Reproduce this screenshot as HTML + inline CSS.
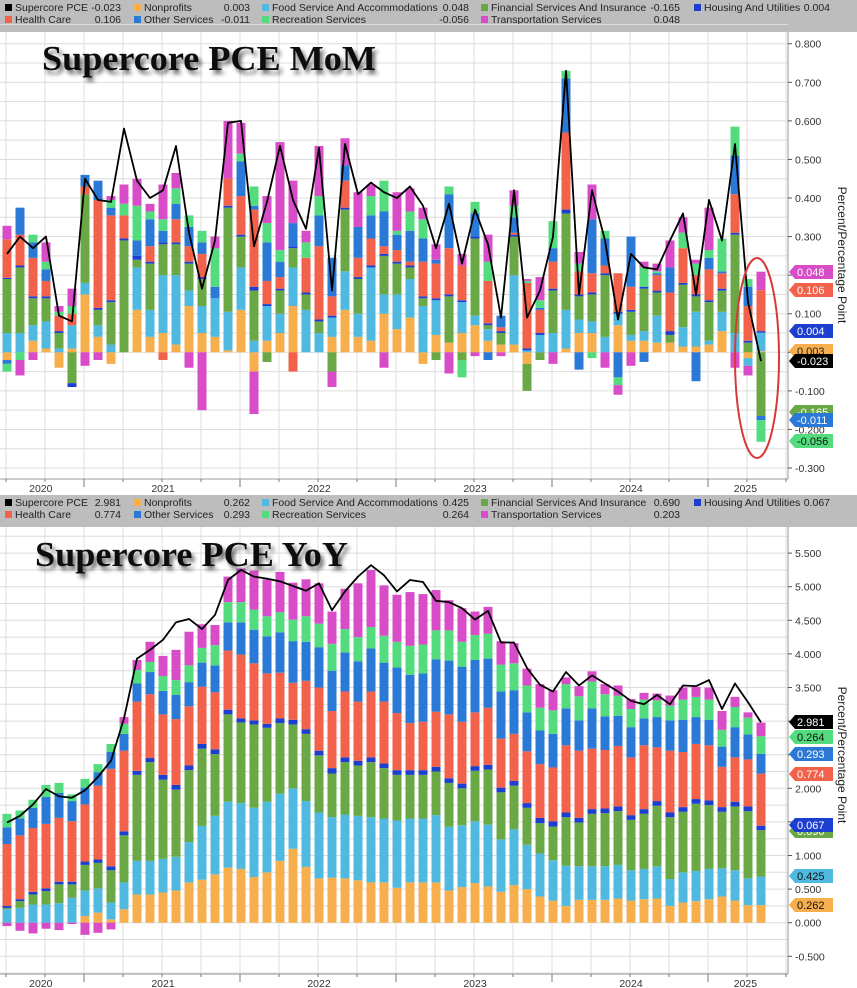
<!DOCTYPE html>
<html><head><meta charset="utf-8">
<style>
html,body{margin:0;padding:0;background:#fff;}
svg{display:block;font-family:"Liberation Sans",sans-serif;}
</style></head>
<body>
<svg id="chart" width="857" height="988" viewBox="0 0 857 988" xmlns="http://www.w3.org/2000/svg">
<defs>
<filter id="shadow" x="-10%" y="-30%" width="120%" height="170%"><feGaussianBlur in="SourceAlpha" stdDeviation="2.2"/><feOffset dx="3" dy="4" result="b"/><feComponentTransfer><feFuncA type="linear" slope="0.6"/></feComponentTransfer><feMerge><feMergeNode/><feMergeNode in="SourceGraphic"/></feMerge></filter>
</defs>
</svg>
<script>
// ---------- DATA ----------
const seriesNames = ["Nonprofits","Food Service And Accommodations","Financial Services And Insurance","Housing And Utilities","Health Care","Other Services","Recreation Services","Transportation Services"];
const seriesColors = ["#f7ae4c","#4fb9e0","#6aa846","#1c3fd0","#f2614a","#2b79d6","#52dc7e","#d94cc7"];
const yearLabels = ["2020","2021","2022","2023","2024","2025"];
const yearLabelIdx = [2.6,12,24,36,48,56.8];
const yearTickIdx = [6,18,30,42,54];

// MoM
const momTotal = [0.255,0.30,0.27,0.30,0.095,0.08,0.45,0.395,0.39,0.58,0.445,0.40,0.42,0.535,0.31,0.165,0.29,0.595,0.60,0.275,0.39,0.535,0.395,0.32,0.53,0.16,0.54,0.41,0.44,0.415,0.40,0.43,0.38,0.27,0.385,0.23,0.37,0.28,0.09,0.42,0.09,0.16,0.30,0.73,0.15,0.42,0.29,0.085,0.255,0.22,0.215,0.29,0.36,0.15,0.395,0.29,0.54,0.13,-0.023];
const momNP = [-0.02,0,0.03,0.01,-0.04,0.01,0.15,0.04,-0.03,0,0.11,0.04,0.05,0.02,0.12,0.05,0.04,0.005,0.11,-0.05,0.03,0.05,0.12,0,0,0.04,0.11,0.04,0.03,0.1,0.06,0.09,-0.03,0.045,0.025,0.05,0.07,0.03,0.02,0.02,-0.03,0,0,0.01,0.05,0.05,0,0.07,0.03,0.03,0.025,0.025,0.015,0.015,0.02,0.055,0,-0.015,0.003];
const momFS = [0.05,0.05,0.04,0.07,0.01,0.06,0.03,0.03,0.02,0,0.11,0.07,0.15,0.18,0.04,0.07,0.1,0.1,0.11,0.03,0.09,0.05,0.1,0.11,0.05,0.05,0.1,0.06,0.19,0.05,0.09,0.1,0.12,0.09,0,0.08,0.025,0.03,0,0.18,0.005,0.045,0.05,0.1,0.035,0.03,0.04,0.03,0.015,0.025,0.07,0,0.05,0.09,0.01,0.05,0.05,-0.02,0.048];
const momFI = [0.14,0.17,0.07,0.06,0.04,-0.08,0.23,0.04,0.11,0.29,0.02,0.12,0.08,0.08,0.07,0.07,0,0.27,0.08,0.13,-0.025,0.06,0.05,0.04,0.03,-0.05,0.16,0.09,0,0.1,0.08,0.03,0.02,-0.02,0.12,-0.02,0.2,0.01,0.03,0.1,-0.07,-0.02,0.11,0.25,0.06,0.07,0.16,0,0.06,0.11,0.06,0.02,0.11,0.04,0.1,0.055,0.255,0.025,-0.165];
const momHU = [0.003,0.005,0.005,0.005,0.005,-0.01,0,0.005,0.005,0.005,0.01,0.005,0.005,0.005,0.005,0.005,0,0.005,0.005,0.01,0.005,0.005,0.005,0.005,0.005,0.005,0.005,0.005,0.005,0.005,0.005,0.005,0.005,0.005,0.005,0.005,0.005,0.005,0.005,0.005,0.005,0.005,0.005,0.01,0.005,0.005,0.005,0.005,0.005,0.005,0.005,0.01,0.005,0.005,0.005,0.005,0.005,0.005,0.004];
const momHC = [0.1,0.08,0.1,0.04,0.04,0.03,0.02,0.28,0.22,0.06,0,0.04,-0.02,0.06,0.04,0.06,0,0.07,0.1,0.2,0.06,0.03,-0.05,0.09,0.19,0.05,0.07,0.05,0.07,0.02,0.03,0.01,0.09,0.09,0.12,0.09,0,0.11,0.01,0.005,0.17,0.06,0.07,0.2,0.06,0.05,0.02,0.1,0.06,0,0.04,0.1,0.09,0.05,0.08,0.04,0.1,0.09,0.106];
const momOS = [-0.01,0.07,0.04,0.03,0,0,0.03,0.05,0.02,0,0.04,0.07,0.03,0.04,0.05,0.03,0.03,0,0.09,0.01,0.1,0.04,0.06,0,0.08,0.1,0.04,0.08,0.06,0.09,0.04,0.08,0.06,0.01,0.14,0,0.06,-0.02,0.03,0.04,0,0.005,0.035,0.14,-0.045,0.14,0.07,-0.065,0.13,-0.025,0.005,0.065,0,-0.075,0.03,0.005,0.1,0.05,-0.011];
const momRS = [-0.02,-0.02,0.02,0.02,0.01,0.02,0,0,0.02,0.03,0.09,0.02,0.03,0.04,0.03,0.03,0.1,0,0.02,0.05,0.05,0.03,0,0.04,0.05,0,0,0,0.05,0.08,0.01,0.05,0.05,0,0.02,-0.045,0.03,0.05,0,0.03,0.005,0.02,0.07,0.02,0.02,-0.015,0.02,-0.02,0,0.05,0.005,0,0.04,0.03,0.02,0.085,0.075,0.02,-0.056];
const momTS = [0.035,-0.04,-0.02,0.05,0.015,0.045,-0.035,-0.02,0.01,0.05,0.07,0.02,0.09,0.04,-0.04,-0.15,0.03,0.15,0.08,-0.11,0.07,0.28,0.11,0.03,0.13,-0.04,0.07,0.09,0.03,-0.04,0.1,0.06,0.03,0.04,-0.055,0.03,-0.01,0.07,-0.01,0.04,0.005,0.06,-0.03,0,0.03,0.09,-0.04,-0.025,-0.035,0.015,0.02,0.07,0.04,0.01,0.11,0,-0.04,-0.025,0.048];
const momTicks = [0.8,0.7,0.6,0.5,0.4,0.3,0.2,0.1,0,-0.1,-0.2,-0.3];

// YoY
const yoyTotal = [1.49,1.59,1.76,1.99,1.88,1.86,1.97,2.17,2.41,3.04,3.93,4.06,4.21,4.47,4.52,4.37,4.58,5.10,5.25,5.15,5.12,5.08,5.01,4.94,5.05,4.65,4.93,5.15,5.32,5.17,4.93,5.10,5.07,4.79,4.77,4.68,4.51,4.64,4.17,4.17,3.79,3.54,3.44,3.73,3.53,3.68,3.56,3.44,3.30,3.25,3.39,3.25,3.53,3.52,3.61,3.18,3.56,3.28,2.981];
const yoyNP = [0,0,0,0,0,0,0.1,0.15,0.05,0.2,0.42,0.42,0.45,0.48,0.6,0.64,0.72,0.82,0.8,0.68,0.75,0.92,1.1,0.83,0.66,0.67,0.66,0.63,0.6,0.6,0.52,0.6,0.6,0.6,0.48,0.53,0.59,0.54,0.46,0.56,0.5,0.39,0.33,0.25,0.34,0.34,0.34,0.36,0.33,0.35,0.36,0.25,0.3,0.32,0.35,0.39,0.33,0.26,0.262];
const yoyFS = [0.2,0.22,0.27,0.27,0.29,0.37,0.38,0.36,0.25,0.4,0.5,0.5,0.5,0.5,0.6,0.8,0.87,0.98,0.98,1.03,1.05,1.0,0.9,0.98,0.98,0.9,0.95,0.96,0.97,0.95,1.0,0.95,0.95,1.0,0.95,0.92,0.92,0.92,0.78,0.83,0.66,0.64,0.6,0.6,0.5,0.5,0.5,0.5,0.45,0.45,0.48,0.4,0.45,0.45,0.45,0.42,0.45,0.4,0.425];
const yoyFI = [0.02,0.1,0.15,0.2,0.28,0.2,0.38,0.38,0.48,0.7,1.28,1.47,1.18,1.0,1.07,1.15,0.92,1.3,1.2,1.24,1.1,1.05,0.95,1.0,0.85,0.65,0.78,0.75,0.82,0.75,0.68,0.65,0.65,0.65,0.65,0.55,0.75,0.82,0.7,0.65,0.55,0.45,0.5,0.72,0.65,0.78,0.79,0.8,0.75,0.82,0.9,0.92,0.9,1.0,0.95,0.84,0.95,1.0,0.69];
const yoyHU = [0.03,0.03,0.04,0.04,0.04,0.04,0.05,0.05,0.06,0.06,0.06,0.06,0.07,0.07,0.07,0.07,0.07,0.07,0.06,0.06,0.06,0.07,0.07,0.07,0.07,0.08,0.07,0.07,0.07,0.07,0.07,0.07,0.07,0.07,0.07,0.07,0.07,0.07,0.07,0.07,0.07,0.08,0.08,0.07,0.07,0.07,0.07,0.07,0.07,0.07,0.07,0.07,0.07,0.07,0.07,0.07,0.07,0.07,0.067];
const yoyHC = [0.92,0.95,0.95,0.96,0.95,0.9,0.85,1.1,1.45,1.2,1.03,0.95,0.9,0.98,0.88,0.85,0.85,0.88,0.95,0.85,0.75,0.68,0.55,0.72,0.94,0.85,0.98,0.88,0.98,0.92,0.85,0.7,0.72,0.82,0.95,0.92,0.8,0.85,0.73,0.7,0.77,0.8,0.8,1.0,1.0,0.9,0.87,0.9,0.86,0.95,0.8,0.92,0.82,0.82,0.82,0.6,0.66,0.7,0.774];
const yoyOS = [0.25,0.25,0.3,0.4,0.37,0.3,0.25,0.2,0.25,0.25,0.27,0.33,0.35,0.36,0.36,0.36,0.4,0.42,0.48,0.5,0.55,0.6,0.62,0.58,0.6,0.6,0.58,0.6,0.64,0.58,0.68,0.72,0.72,0.78,0.8,0.82,0.78,0.73,0.7,0.65,0.58,0.5,0.5,0.55,0.45,0.6,0.5,0.45,0.45,0.4,0.45,0.45,0.48,0.4,0.38,0.3,0.45,0.37,0.293];
const yoyRS = [0.2,0.12,0.12,0.18,0.15,0.1,0.13,0.12,0.12,0.15,0.2,0.15,0.22,0.22,0.25,0.22,0.3,0.3,0.3,0.3,0.3,0.3,0.32,0.38,0.35,0.4,0.35,0.36,0.32,0.4,0.38,0.43,0.43,0.43,0.45,0.37,0.37,0.37,0.4,0.4,0.4,0.34,0.35,0.36,0.36,0.4,0.33,0.3,0.27,0.28,0.25,0.22,0.3,0.3,0.3,0.25,0.3,0.25,0.264];
const yoyTS = [-0.05,-0.12,-0.16,-0.09,-0.11,-0.02,-0.18,-0.15,-0.1,0.1,0.15,0.3,0.3,0.45,0.5,0.35,0.3,0.38,0.5,0.58,0.55,0.6,0.55,0.55,0.6,0.48,0.6,0.8,0.85,0.75,0.7,0.8,0.75,0.6,0.45,0.5,0.35,0.4,0.35,0.3,0.25,0.35,0.3,0.1,0.15,0.15,0.15,0.15,0.15,0.1,0.1,0.15,0.18,0.15,0.18,0.28,0.15,0.08,0.203];
const yoyTicks = [5.5,5,4.5,4,3.5,3,2.5,2,1.5,1,0.5,0,-0.5];

// ---------- DRAW ----------
const NS = "http://www.w3.org/2000/svg";
const svg = document.getElementById('chart');
function mk(tag, attrs, parent){ const e=document.createElementNS(NS,tag); for(const k in attrs) e.setAttribute(k,attrs[k]); (parent||svg).appendChild(e); return e; }
const xScale = i => 7 + 13*i;
const BW = 9;
const fmt = v => v.toFixed(3);

function drawPanel(cfg){
  const g = mk('g',{});
  
  
  const y = v => cfg.zeroY - v*cfg.pxPerUnit;
  // legend band
  const lg = mk('g',{},g);
  
  
  mk('rect',{x:0,y:cfg.top,width:857,height:32,fill:'#bdbdbd'},lg);
  mk('rect',{x:0,y:cfg.top+32,width:857,height:cfg.plotBottom-cfg.top-32,fill:'#ffffff'},g);
  // gridlines
  const gg = mk('g',{},g);
  
  
  for(let v=cfg.gridMin; v<=cfg.gridMax+1e-9; v+=cfg.gridStep){
    mk('line',{x1:0,x2:788,y1:y(v),y2:y(v),stroke:'#dcdcdc','stroke-width':1},gg);
  }
  for(let i=0;i<=60;i+=3){
    mk('line',{x1:xScale(i)-1,x2:xScale(i)-1,y1:cfg.top+32,y2:cfg.plotBottom,stroke:'#dcdcdc','stroke-width':1},gg);
  }
  // bars
  const n = cfg.total.length;
  for(let i=0;i<n;i++){
    let pos=0, neg=0;
    for(let s=0;s<cfg.series.length;s++){
      const v = cfg.series[s][i];
      if(!v) continue;
      let y1,y2;
      if(v>0){ y1=y(pos+v); y2=y(pos); pos+=v; } else { y1=y(neg); y2=y(neg+v); neg+=v; }
      const r = mk('rect',{x:xScale(i)-BW/2,y:y1,width:BW,height:Math.max(0.5,y2-y1),fill:seriesColors[s]},g);
      
      
    }
  }
  // line
  let d='';
  for(let i=0;i<n;i++){ d += (i?'L':'M')+xScale(i)+','+y(cfg.total[i]); }
  const ln = mk('path',{d:d,fill:'none',stroke:'#000','stroke-width':1.8,'stroke-linejoin':'round'},g);
  
  
  // axes
  mk('line',{x1:788,x2:788,y1:cfg.top+32,y2:cfg.plotBottom,stroke:'#999','stroke-width':1},g);
  mk('line',{x1:0,x2:788,y1:cfg.plotBottom,y2:cfg.plotBottom,stroke:'#999','stroke-width':1},g);
  cfg.ticks.forEach(t=>{
    mk('line',{x1:788,x2:792,y1:y(t),y2:y(t),stroke:'#555'},g);
    const tx = mk('text',{x:795,y:y(t)+4,'font-size':10.5,fill:'#333'},g);
    tx.textContent = fmt(t);
    
    
  });
  yearTickIdx.forEach(t=>{ mk('line',{x1:xScale(t)-1,x2:xScale(t)-1,y1:cfg.plotBottom,y2:cfg.plotBottom+8,stroke:'#777'},g); });
  for(let i=0;i<=60;i+=3) mk('line',{x1:xScale(i)-1,x2:xScale(i)-1,y1:cfg.plotBottom,y2:cfg.plotBottom+3,stroke:'#777'},g);
  yearLabels.forEach((lbl,k)=>{
    const tx = mk('text',{x:xScale(yearLabelIdx[k]),y:cfg.plotBottom+13,'font-size':10.5,fill:'#333','text-anchor':'middle'},g);
    tx.textContent = lbl;
    
    
  });
  // axis title
  const at = mk('text',{x:0,y:0,'font-size':12,fill:'#222',transform:`translate(838,${cfg.titleY}) rotate(90)`,'text-anchor':'middle'},g);
  at.textContent = 'Percent/Percentage Point';
  
  
  // chart title
  const ct = mk('text',{x:cfg.titleX,y:cfg.titleBase,'font-family':'"Liberation Serif",serif','font-weight':'bold','font-size':35,fill:'#111',textLength:cfg.titleW,lengthAdjust:'spacingAndGlyphs',filter:'url(#shadow)'},g);
  ct.textContent = cfg.title;
  
  
  // legend entries
  const last = cfg.series.map(s=>s[s.length-1]);
  const items = [
    ['Supercore PCE','#000',cfg.total[n-1],5,121,0],
    [seriesNames[0],seriesColors[0],last[0],134,250,0],
    [seriesNames[1],seriesColors[1],last[1],262,469,0],
    [seriesNames[2],seriesColors[2],last[2],481,680,0],
    [seriesNames[3],seriesColors[3],last[3],694,830,0],
    [seriesNames[4],seriesColors[4],last[4],5,121,1],
    [seriesNames[5],seriesColors[5],last[5],134,250,1],
    [seriesNames[6],seriesColors[6],last[6],262,469,1],
    [seriesNames[7],seriesColors[7],last[7],481,680,1]
  ];
  items.forEach(it=>{
    const ey = cfg.top + 11 + it[5]*12;
    const eg = mk('g',{},lg);
    
    
    mk('rect',{x:it[3],y:ey-7,width:7,height:7,fill:it[1]},eg);
    const t1 = mk('text',{x:it[3]+10,y:ey,'font-size':10.5,fill:'#222'},eg);
    t1.textContent = it[0];
    const t2 = mk('text',{x:it[4],y:ey,'font-size':10.5,fill:'#222','text-anchor':'end'},eg);
    t2.textContent = fmt(it[2]);
  });
  // value tags
  cfg.tags.forEach(tg=>{
    const tgG = mk('g',{},g);
    
    
    const ty = tg[0];
    mk('path',{d:`M789,${ty} L795,${ty-7} L833,${ty-7} L833,${ty+7} L795,${ty+7} Z`,fill:tg[1]},tgG);
    const tt = mk('text',{x:797,y:ty+4,'font-size':11,fill:tg[3]||'#fff'},tgG);
    tt.textContent = fmt(tg[2]);
  });
}

drawPanel({name:'mom-panel',top:0,plotBottom:479,zeroY:352.3,pxPerUnit:385.7,gridMin:-0.3,gridMax:0.85,gridStep:0.05,
  ticks:momTicks,total:momTotal,series:[momNP,momFS,momFI,momHU,momHC,momOS,momRS,momTS],
  title:'Supercore PCE MoM',titleX:42,titleBase:70,titleW:334,titleY:255,
  tags:[[272,'#d94cc7',momTS[momTS.length-1]],[290,'#f2614a',momHC[momHC.length-1]],[331,'#1c3fd0',momHU[momHU.length-1]],[351,'#f7ae4c',momNP[momNP.length-1],'#222'],[361,'#000',momTotal[momTotal.length-1]],[412,'#6aa846',momFI[momFI.length-1]],[420,'#2b79d6',momOS[momOS.length-1]],[441,'#52dc7e',momRS[momRS.length-1],'#111']]
});
drawPanel({name:'yoy-panel',top:495,plotBottom:974,zeroY:922.7,pxPerUnit:67.2,gridMin:-0.75,gridMax:5.75,gridStep:0.25,
  ticks:yoyTicks,total:yoyTotal,series:[yoyNP,yoyFS,yoyFI,yoyHU,yoyHC,yoyOS,yoyRS,yoyTS],
  title:'Supercore PCE YoY',titleX:35,titleBase:566,titleW:313,titleY:755,
  tags:[[722,'#000',yoyTotal[yoyTotal.length-1]],[737,'#52dc7e',yoyRS[yoyRS.length-1],'#111'],[754,'#2b79d6',yoyOS[yoyOS.length-1]],[774,'#f2614a',yoyHC[yoyHC.length-1]],[831,'#6aa846',yoyFI[yoyFI.length-1]],[825,'#1c3fd0',yoyHU[yoyHU.length-1]],[876,'#4fb9e0',yoyFS[yoyFS.length-1],'#111'],[905,'#f7ae4c',yoyNP[yoyNP.length-1],'#111']]
});
// red highlight ellipse
const el = mk('ellipse',{cx:757,cy:358,rx:22,ry:100,fill:'none',stroke:'#d9383a','stroke-width':2});


</script>
</body></html>
